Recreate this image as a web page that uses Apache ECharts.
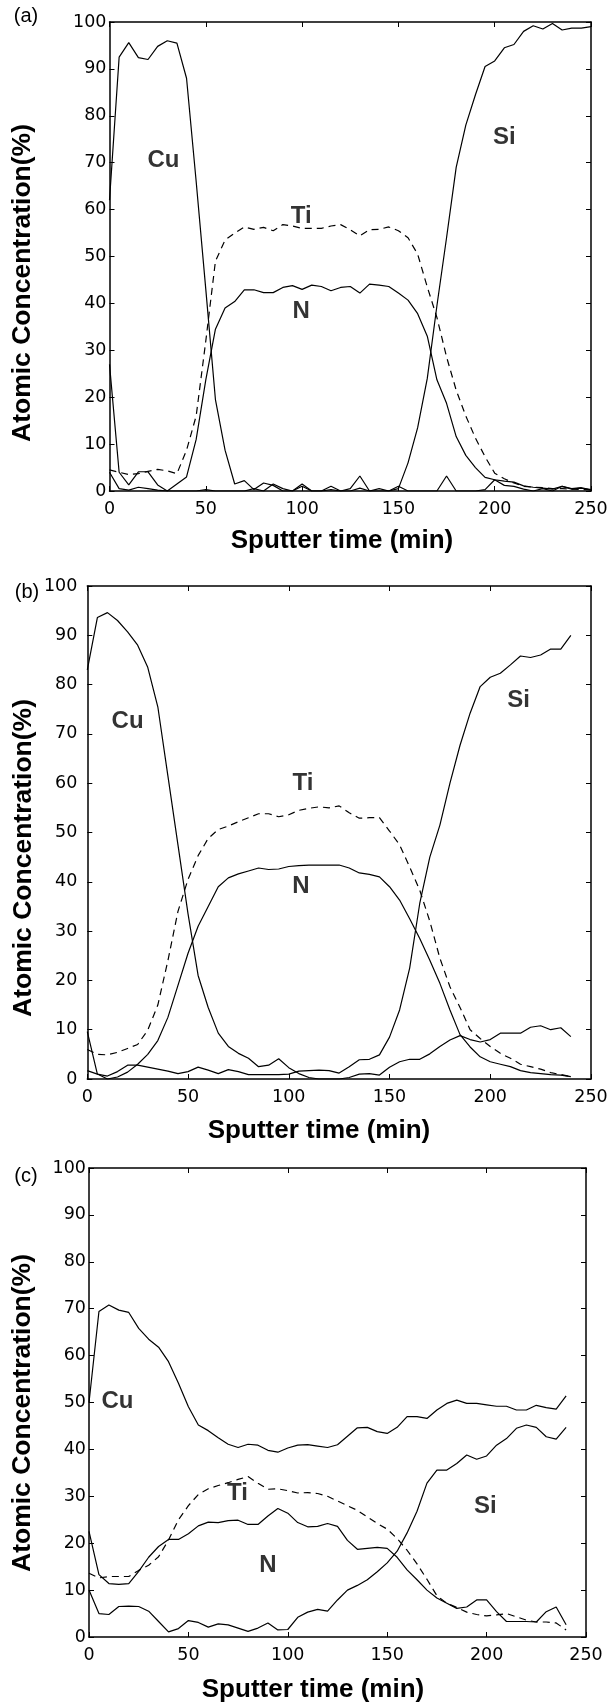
<!DOCTYPE html>
<html>
<head>
<meta charset="utf-8">
<script src="https://cdn.jsdelivr.net/npm/echarts@6/dist/echarts.min.js"></script>
<style>
  html, body { margin: 0; padding: 0; background: #fff; }
  #chart { width: 611px; height: 1707px; }
</style>
</head>
<body>
<div id="chart"></div>
<script>
// sample times (min)
const timeA = [0,5,10,15,20,25,30,35,40,45,50,55,60,65,70,75,80,85,90,95,100,105,110,115,120,125,130,135,140,145,150,155,160,165,170,175,180,185,190,195,200,205,210,215,220,225,230,235,240,245,250];
const timeBC = [0,5,10,15,20,25,30,35,40,45,50,55,60,65,70,75,80,85,90,95,100,105,110,115,120,125,130,135,140,145,150,155,160,165,170,175,180,185,190,195,200,205,210,215,220,225,230,235,240];

// (a)
const cuA = [62,92.5,95.6,92.4,92,94.8,96,95.5,88,66,43,19.5,8.7,1.5,2.2,0.3,1.7,1.2,0,0,1.5,0,0,1,0,0.5,3.2,0,0.5,0,1,0,0,0,0,3.2,0,0,0,0.3,2.4,1.2,1,0.4,0,0.5,0,1,0.4,0.6,0.2];
const tiA = [4.5,4,3.5,3.7,4.2,4.6,4.3,3.7,8.7,16,32,49,53.5,55,56.3,55.8,56.2,55.5,56.8,56.5,56,56,56,56.5,56.8,55.7,54.4,55.7,55.8,56.3,55.5,54,50.5,43.5,37,28.6,21.5,16,11.3,7.3,3.8,2.6,1.7,1,0.8,0.7,0.5,0.5,0.4,0.3,0.3];
const nA = [27,4,1.3,4.1,4.1,1.3,0,1.5,3,11,23.7,34.5,39,40.4,42.9,42.9,42.3,42.3,43.4,43.8,43,43.9,43.6,42.7,43.4,43.6,42.2,44.1,43.9,43.6,42.2,40.7,37.8,33,23.7,18.7,11.6,7.6,5,2.9,2.4,2.1,1.9,1.1,0.8,0.6,0.4,1,0.5,0.7,0.3];
const siA = [4,0.5,0.2,0.8,0.5,0.2,0,0,0,0,0.3,0,0,0,0,0.5,0,1.5,0.5,0,1,0,0,0.3,0,0,0.6,0,0,0,0.5,6,13.5,24,39.5,54,69,78,84.5,90.5,91.7,94.5,95.2,98,99.2,98.5,99.7,98.3,98.7,98.7,99];

// (b)
const cuB = [83,93.6,94.6,93,90.7,88,83.5,75.5,61.5,47.5,33.5,21,14.5,9.3,6.6,5.2,4.2,2.5,2.8,4.1,2.3,1.1,0.3,0,0,0,0.3,1,1.1,0.8,2.4,3.5,4,4,5.1,6.6,7.9,8.8,8,7.5,8,9.3,9.3,9.3,10.5,10.8,10,10.4,8.6];
const tiB = [6,5,4.9,5.4,6.2,7,9.9,15,24,34,40.5,45.3,48.8,50.6,51.3,52.2,53,53.8,53.8,53.2,53.6,54.5,54.9,55.2,55,55.4,54,52.9,53,53,50.3,47.5,43,38.3,32,24.5,18.7,14.5,10,8.2,6.6,5.2,4.2,3,2.5,2,1.3,0.9,0.5];
const nB = [9.6,1,0,0.4,1.4,3,5,7.8,12.5,19,25.5,31,35,39,40.8,41.6,42.2,42.8,42.5,42.6,43.1,43.3,43.4,43.4,43.4,43.4,42.8,41.8,41.5,41,39,36.3,32.5,28.5,24.1,19.4,14,9,6.5,4.5,3.5,3,2.5,1.7,1.3,1.1,0.9,0.8,0.5];
const siB = [1.7,1,0.6,1.5,2.8,2.8,2.4,2,1.6,1.1,1.5,2.4,1.8,1.1,1.9,1.5,0.9,0.9,0.9,0.9,1,1.6,1.7,1.8,1.7,1.2,2.5,3.9,4,4.9,8.5,14,22.5,35.6,45,51.5,60,67.7,74.2,79.6,81.5,82.3,84,85.8,85.5,86,87.2,87.2,90];

// (c)
const cuC = [50,69.4,70.8,69.7,69.2,65.8,63.5,61.8,58.7,54.1,49.1,45.2,44,42.5,41.1,40.4,41.1,40.9,39.8,39.4,40.3,40.9,41,40.7,40.4,41,42.8,44.6,44.7,43.8,43.4,44.7,47,47,46.6,48.4,49.8,50.5,49.8,49.8,49.5,49.2,49.2,48.4,48.4,49.4,48.9,48.6,51.4];
const tiC = [13.6,12.6,12.9,12.9,12.9,14.2,15.3,17.1,20.7,25,28,30.4,31.6,32.3,32.9,33.6,34.2,32.8,31.5,31.6,31.2,30.7,30.8,30.6,30,29,28,27,25.6,24.2,23,21,18.5,15.6,12.3,8.8,7.2,6.3,5.3,4.8,4.5,4.7,5,4.3,3.6,3.2,3.2,3,1.5];
const nC = [22.5,13.3,11.4,11.2,11.4,14,17,19.3,20.8,20.8,22,23.7,24.5,24.4,24.8,24.9,24,24,25.8,27.4,26.4,24.4,23.5,23.6,24.2,23.6,20.6,18.7,18.9,19.1,18.9,17,14.3,12.2,10,8.3,7.2,6.1,6.4,7.9,7.9,5.4,3.3,3.3,3.3,3.2,5.4,6.4,2.6];
const siC = [10,5,4.8,6.5,6.6,6.5,5.5,3.3,1.1,1.8,3.5,3.1,2.1,2.8,2.6,1.9,1.2,1.9,3,1.5,1.6,4.2,5.3,5.9,5.5,7.9,10,11,12.2,13.9,15.8,18.3,22.2,26.8,32.8,35.6,35.6,37,38.8,37.9,38.6,40.9,42.3,44.5,45.2,44.7,42.7,42.2,44.7];

// element labels [time, conc, text]
const labelsA = [[28, 70.5, 'Cu'], [99.5, 58.5, 'Ti'], [99.5, 38.2, 'N'], [205, 75.5, 'Si']];
const labelsB = [[20, 72.5, 'Cu'], [107, 60, 'Ti'], [106, 39, 'N'], [214, 76.7, 'Si']];
const labelsC = [[14.3, 50.2, 'Cu'], [74.7, 30.7, 'Ti'], [90, 15.2, 'N'], [199.4, 27.8, 'Si']];

const FONT = '"Liberation Sans", Arial, sans-serif';
const TICK_FONT = '"DejaVu Sans", "Liberation Sans", sans-serif';

const panels = [
  { grid: { left: 109.5, top: 22, width: 481.5, height: 469 }, t: timeA,
    cu: cuA, ti: tiA, n: nA, si: siA, labels: labelsA, yMargin: 3,
    letter: ['(a)', 26, 16], xTitle: [342, 541], yTitle: [23, 283] },
  { grid: { left: 87.3, top: 586, width: 503.7, height: 493 }, t: timeBC,
    cu: cuB, ti: tiB, n: nB, si: siB, labels: labelsB, yMargin: 10,
    letter: ['(b)', 27, 592], xTitle: [319, 1131], yTitle: [24, 858] },
  { grid: { left: 89, top: 1168, width: 497, height: 469 }, t: timeBC,
    cu: cuC, ti: tiC, n: nC, si: siC, labels: labelsC, yMargin: 3,
    letter: ['(c)', 26, 1176], xTitle: [313, 1690], yTitle: [23, 1413] }
];

const axisLine = { show: true, onZero: false, lineStyle: { color: '#000', width: 1.5 } };
const tick = { show: true, inside: true, length: 5, lineStyle: { color: '#000', width: 1 } };
const tickLabel = { color: '#000', fontSize: 17.5, fontFamily: TICK_FONT };

const grids = [], xAxes = [], yAxes = [], series = [], graphics = [];

const zip = (t, v) => v.map((y, i) => [t[i], y]);

panels.forEach((p, i) => {
  grids.push(Object.assign({ containLabel: false }, p.grid));
  const xBase = {
    type: 'value', gridIndex: i, min: 0, max: 250, interval: 50,
    axisLine, axisTick: tick, splitLine: { show: false }
  };
  xAxes.push(Object.assign({}, xBase, {
    position: 'bottom',
    axisLabel: Object.assign({ margin: 9 }, tickLabel)
  }));
  xAxes.push(Object.assign({}, xBase, { position: 'top', axisLabel: { show: false } }));
  const yBase = {
    type: 'value', gridIndex: i, min: 0, max: 100, interval: 10,
    axisLine, axisTick: tick, splitLine: { show: false }
  };
  yAxes.push(Object.assign({}, yBase, {
    position: 'left',
    axisLabel: Object.assign({ margin: p.yMargin }, tickLabel)
  }));
  yAxes.push(Object.assign({}, yBase, { position: 'right', axisLabel: { show: false } }));

  const xi = i * 2, yi = i * 2;
  const line = (name, vals, dashed) => ({
    name, type: 'line', xAxisIndex: xi, yAxisIndex: yi,
    data: zip(p.t, vals), showSymbol: false, symbol: 'none',
    lineStyle: { color: '#000', width: 1.2, type: dashed ? [7, 5] : 'solid' },
    z: 3, silent: true
  });
  series.push(line('Cu', p.cu), line('Ti', p.ti, true), line('N', p.n), line('Si', p.si));
  series.push({
    type: 'scatter', xAxisIndex: xi, yAxisIndex: yi, symbolSize: 0,
    data: p.labels.map(l => ({ value: [l[0], l[1]], name: l[2] })),
    label: {
      show: true, position: 'inside', formatter: '{b}', color: '#000',
      fontSize: 24, fontWeight: 'bold', fontFamily: FONT
    },
    z: 5, silent: true
  });

  graphics.push({
    type: 'text', x: p.letter[1], y: p.letter[2],
    style: { text: p.letter[0], fill: '#000', font: '20px ' + FONT, textAlign: 'center', textVerticalAlign: 'middle' }
  });
  graphics.push({
    type: 'text', x: p.xTitle[0], y: p.xTitle[1],
    style: { text: 'Sputter time (min)', fill: '#000', font: 'bold 26px ' + FONT, textAlign: 'center', textVerticalAlign: 'middle' }
  });
  graphics.push({
    type: 'text', x: p.yTitle[0], y: p.yTitle[1], rotation: Math.PI / 2,
    style: { text: 'Atomic Concentration(%)', fill: '#000', font: 'bold 26.5px ' + FONT, textAlign: 'center', textVerticalAlign: 'middle' }
  });
});

const chart = echarts.init(document.getElementById('chart'), null, { renderer: 'canvas' });
chart.setOption({
  backgroundColor: '#fff',
  animation: false,
  grid: grids,
  xAxis: xAxes,
  yAxis: yAxes,
  series,
  graphic: graphics
});
</script>
</body>
</html>
